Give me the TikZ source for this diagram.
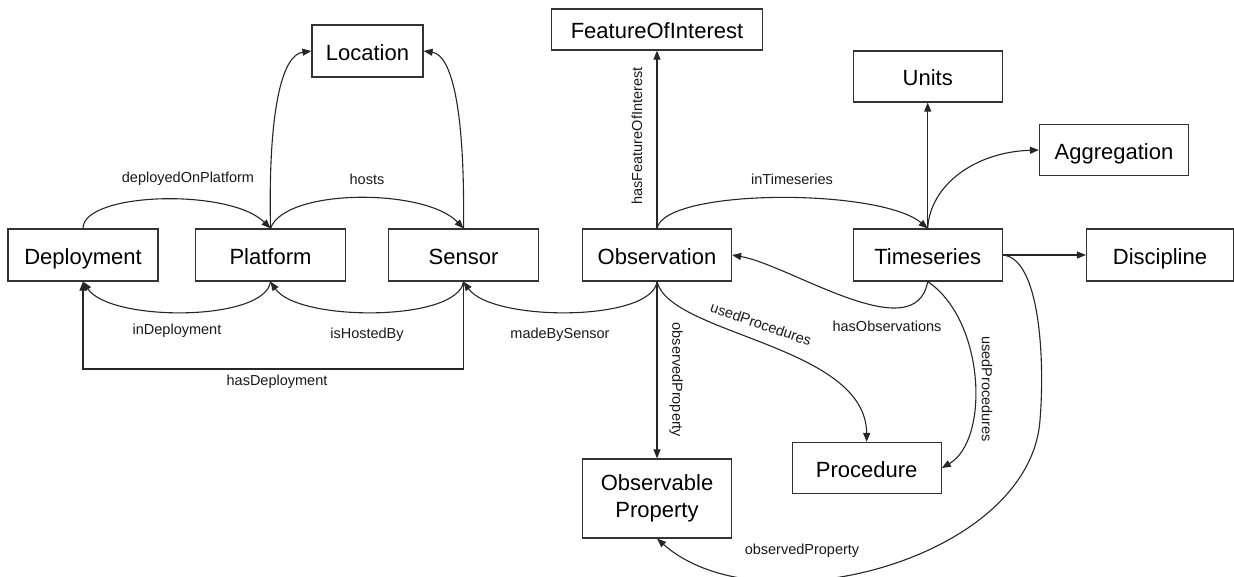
\documentclass[tikz,border=0pt]{standalone}
\usepackage{fontspec}
\setmainfont{Liberation Sans}
\usetikzlibrary{arrows.meta}
\begin{document}
\begin{tikzpicture}[x=1pt,y=-1pt,
  boxbase/.style={draw=black!80, line width=1.2pt, rectangle, inner sep=0pt, align=center,
    font=\fontsize{22}{26.7}\selectfont, text=black},
  box/.style={boxbase, text height=18pt, text depth=0pt},
  lbl/.style={font=\fontsize{14.5}{17}\selectfont, text=black!90, inner sep=0pt},
  conn/.style={draw=black!85, line width=1.1pt, -{Triangle[length=9pt,width=7pt]}}
]
\useasboundingbox (0,0) rectangle (1234,576);
% nodes
\node[box, minimum width=111pt, minimum height=52pt] (loc) at (367.5,51) {Location};
\node[box, minimum width=150pt, minimum height=52pt] (dep) at (83,255) {Deployment};
\node[box, minimum width=150pt, minimum height=52pt] (pla) at (270.5,255) {Platform};
\node[box, minimum width=150pt, minimum height=52pt] (sen) at (463.5,255) {Sensor};
\node[box, minimum width=149pt, minimum height=52pt] (obs) at (657,255) {Observation};
\node[box, minimum width=211pt, minimum height=41pt] (foi) at (657,29.5) {FeatureOfInterest};
\node[box, minimum width=149pt, minimum height=51pt] (uni) at (927.7,76.5) {Units};
\node[box, minimum width=149pt, minimum height=51pt] (agg) at (1114,150) {Aggregation};
\node[box, minimum width=149pt, minimum height=52pt] (tim) at (927.7,255) {Timeseries};
\node[box, minimum width=147pt, minimum height=52pt] (dis) at (1160,255) {Discipline};
\node[boxbase, minimum width=149pt, minimum height=79pt] (opr) at (657,498.5) {Observable\\Property};
\node[box, minimum width=149pt, minimum height=51pt] (pro) at (866.7,468) {Procedure};
% top curves
\draw[conn] (dep.north) .. controls (83,192) and (230,188) .. (pla.north);
\draw[conn] (pla.north) .. controls (285,188) and (425,188) .. (sen.north);
\draw[conn] (obs.north) .. controls (665,188) and (880,188) .. (tim.north);
\draw[conn] (pla.north) .. controls (268,110) and (282,55) .. (loc.west);
\draw[conn] (sen.north) .. controls (465,110) and (452,55) .. (loc.east);
% bottom curves
\draw[conn] (pla.south) .. controls (265,322) and (110,322) .. (dep.south);
\draw[conn] (sen.south) .. controls (458,322) and (298,322) .. (pla.south);
\draw[conn] (obs.south) .. controls (652,322) and (492,322) .. (sen.south);
\coordinate (hdA) at (463.5,369);
\coordinate (hdB) at (83,369);
\draw[conn] (sen.south) -- (hdA) -- (hdB) -- (dep.south);
% straight
\draw[conn] (obs.north) -- (foi.south);
\draw[conn] (tim.north) -- (uni.south);
\draw[conn] (tim.east) -- (dis.west);
\draw[conn] (obs.south) -- (opr.north);
\draw[conn] (tim.north) .. controls (930,185) and (975,152) .. (agg.west);
% timeseries bottom
\draw[conn] (tim.south) .. controls (915,350) and (790,265) .. (obs.east);
\draw[conn] (obs.south) .. controls (670,335) and (866,345) .. (pro.north);
\draw[conn] (tim.south) .. controls (985,320) and (990,440) .. (pro.east);
\draw[conn] (tim.east) .. controls (1040,258) and (1045,360) .. (1040,420)
   .. controls (1030,560) and (760,630) .. (opr.south);
% labels
\node[lbl] (l1) at (188,179) {deployedOnPlatform};
\node[lbl] (l2) at (367,179) {hosts};
\node[lbl] (l3) at (792,179) {inTimeseries};
\node[lbl] (l4) at (177,331) {inDeployment};
\node[lbl] (l5) at (367,335) {isHostedBy};
\node[lbl] (l6) at (560,335) {madeBySensor};
\node[lbl] (l7) at (277,382) {hasDeployment};
\node[lbl, rotate=90] (l8) at (637,136) {hasFeatureOfInterest};
\node[lbl] (l9) at (887,326) {hasObservations};
\node[lbl, rotate=-19] (l10) at (761,324) {usedProcedures};
\node[lbl, rotate=-90] (l11) at (987,389) {usedProcedures};
\node[lbl, rotate=-90] (l12) at (676,380) {observedProperty};
\node[lbl] (l13) at (802,551) {observedProperty};
\end{tikzpicture}
\end{document}
